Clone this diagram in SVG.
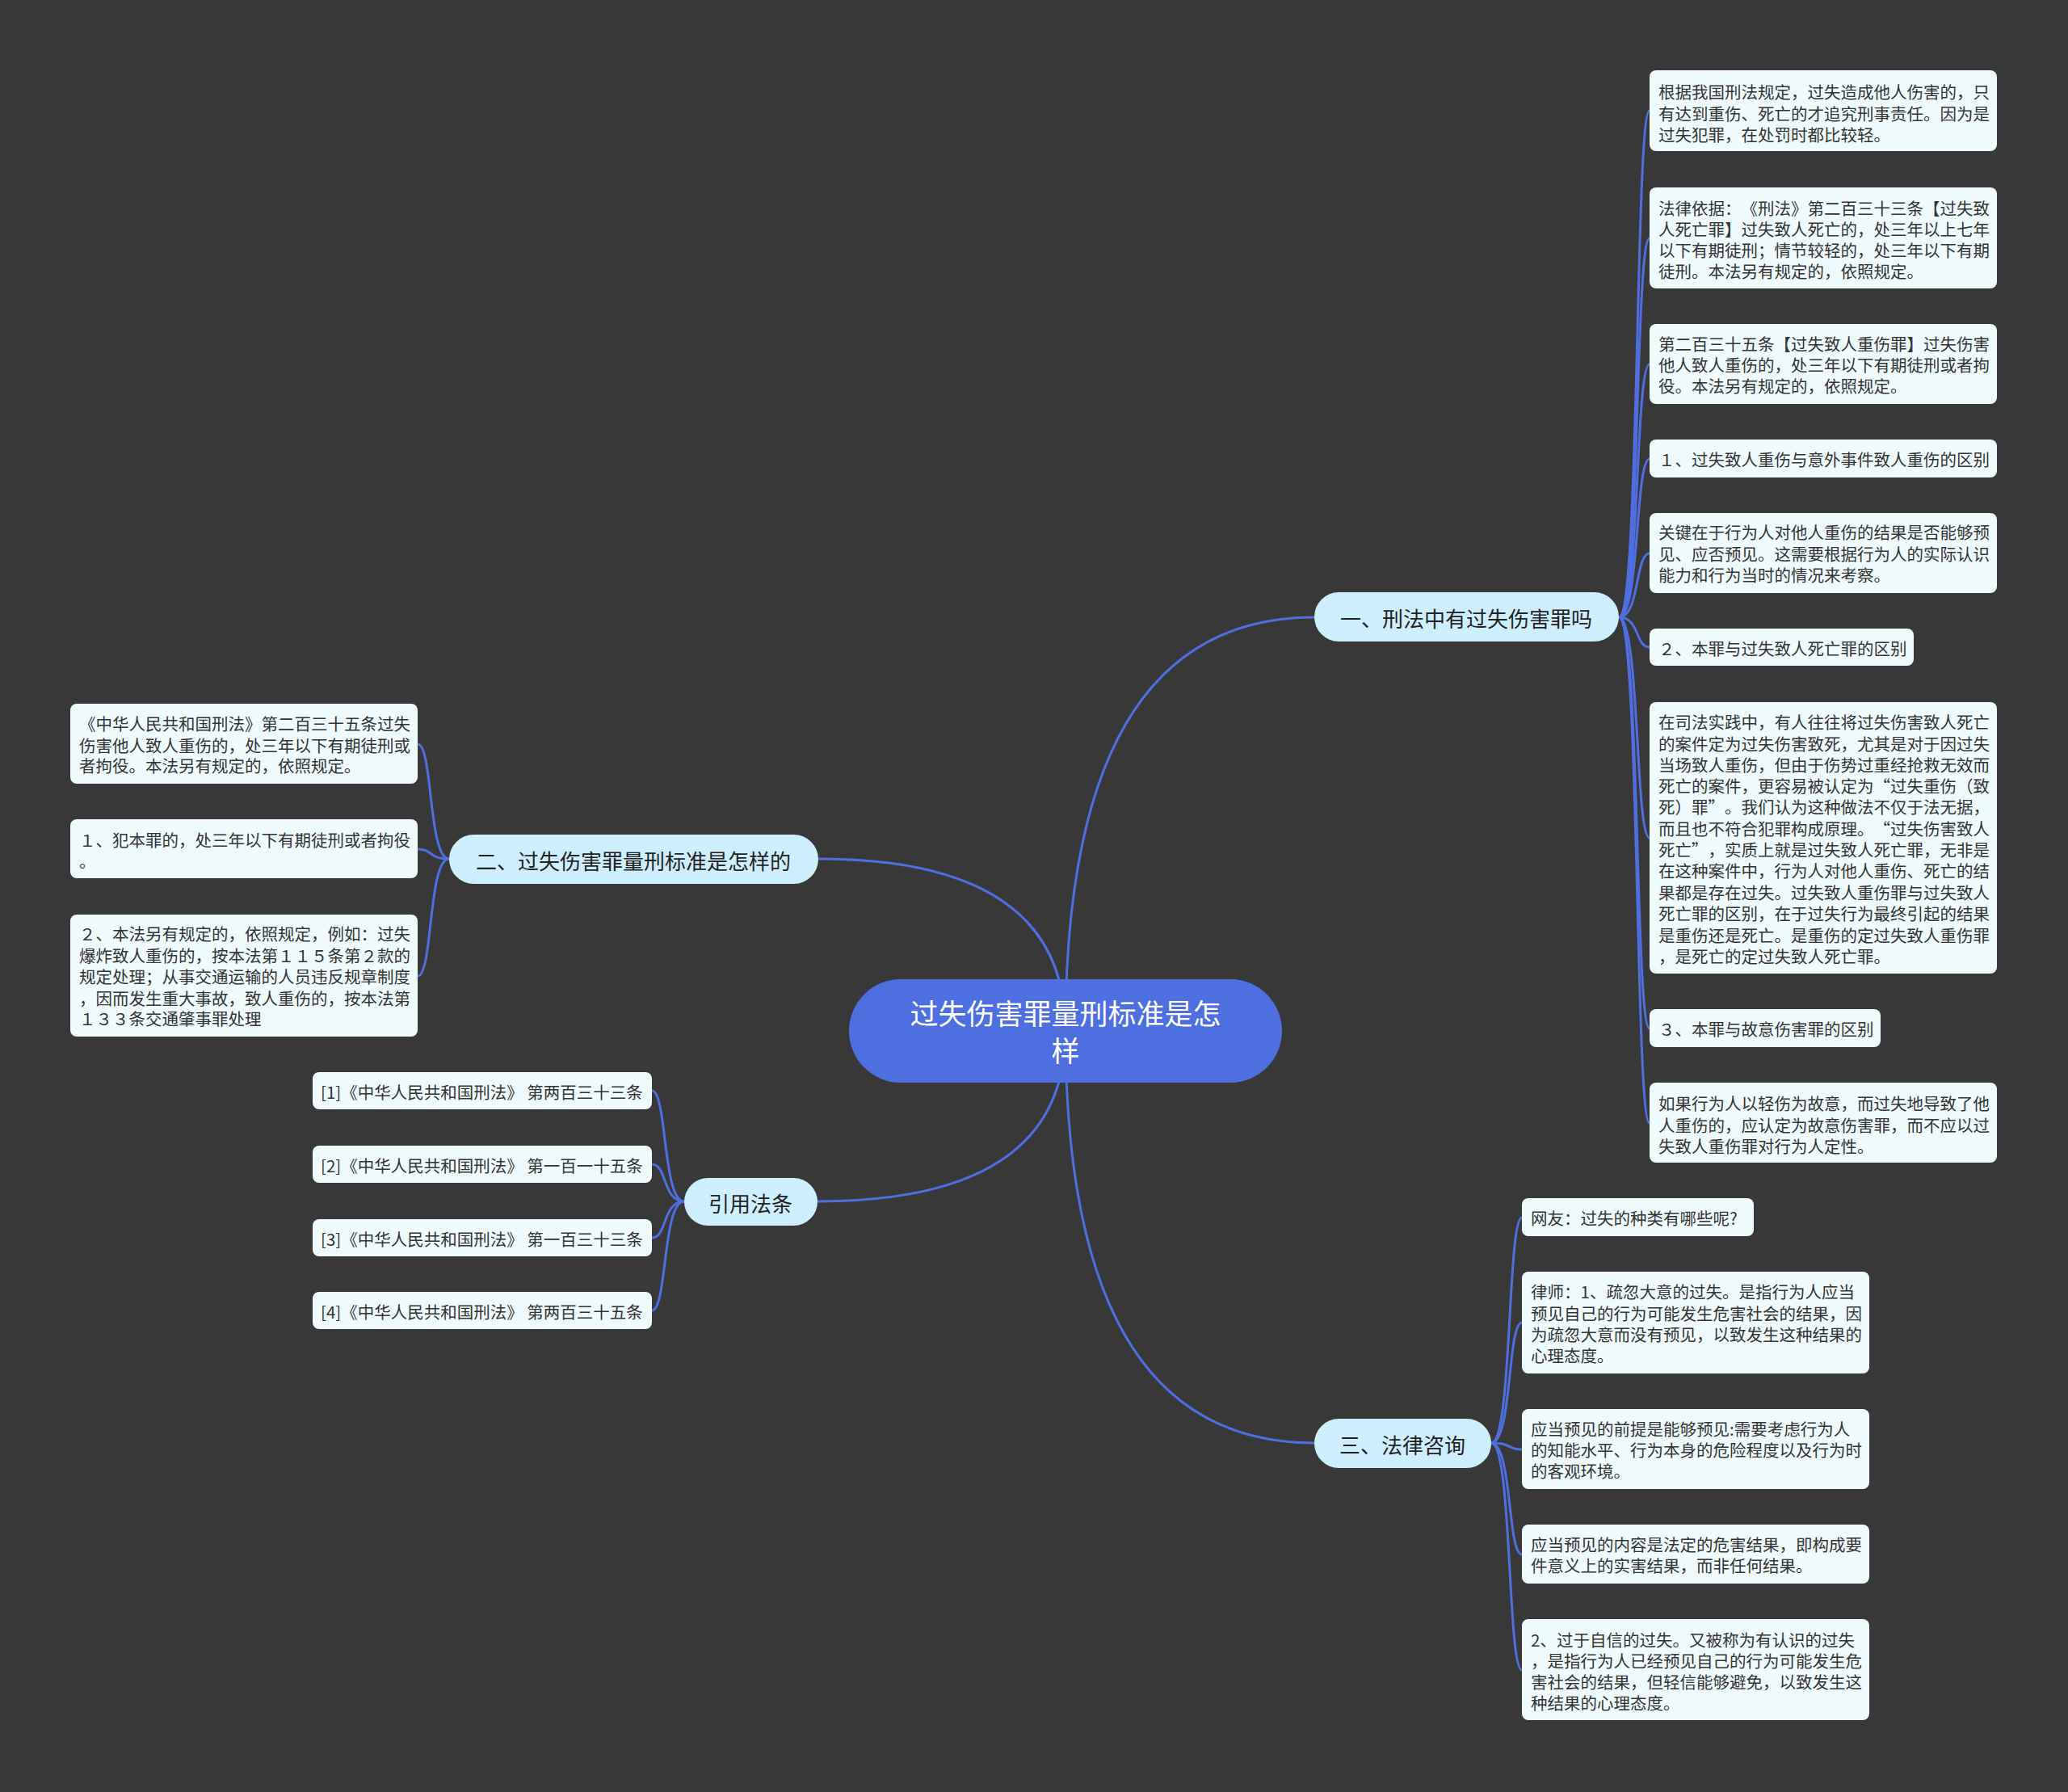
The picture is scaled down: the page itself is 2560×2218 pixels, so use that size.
<svg xmlns="http://www.w3.org/2000/svg" width="2560" height="2218" viewBox="0 0 2560 2218">
<style>
text{font-family:"Noto Sans CJK SC","Noto Sans",sans-serif;dominant-baseline:central;text-spacing-trim:space-all}
.lf rect{fill:#effafd}
.lf text{font-size:20.5px;fill:#333333}
.br rect{fill:#cdeefc}
.br text{font-size:26px;fill:#222222;text-anchor:middle}
.ct rect{fill:#4d6fe0}
.ct text{font-size:35px;fill:#ffffff;text-anchor:middle}
#connectors path{fill:none;stroke:#4f6fe0;stroke-width:3}
</style>
<rect x="0" y="0" width="2560" height="2218" fill="#393839"/>
<g id="connectors">
<path d="M1319 1276 Q1319 764 1627 764"/>
<path d="M1319 1276 Q1319 1063 1013 1063"/>
<path d="M1319 1276 Q1319 1487 1012 1487"/>
<path d="M1319 1276 Q1319 1786 1627 1786"/>
<path d="M2004 764 C2030 764 2024 137 2042 137"/>
<path d="M2004 764 C2030 764 2024 295 2042 295"/>
<path d="M2004 764 C2030 764 2024 451 2042 451"/>
<path d="M2004 764 C2030 764 2024 568 2042 568"/>
<path d="M2004 764 C2030 764 2024 685 2042 685"/>
<path d="M2004 764 C2030 764 2024 801 2042 801"/>
<path d="M2004 764 C2030 764 2024 1037 2042 1037"/>
<path d="M2004 764 C2030 764 2024 1273 2042 1273"/>
<path d="M2004 764 C2030 764 2024 1390 2042 1390"/>
<path d="M556 1063 C530 1063 536 921 517 921"/>
<path d="M556 1063 C530 1063 536 1051 517 1051"/>
<path d="M556 1063 C530 1063 536 1208 517 1208"/>
<path d="M847 1487 C820 1487 826 1350 807 1350"/>
<path d="M847 1487 C820 1487 826 1441 807 1441"/>
<path d="M847 1487 C820 1487 826 1532 807 1532"/>
<path d="M847 1487 C820 1487 826 1622 807 1622"/>
<path d="M1846 1786 C1872 1786 1866 1507 1884 1507"/>
<path d="M1846 1786 C1872 1786 1866 1637 1884 1637"/>
<path d="M1846 1786 C1872 1786 1866 1794 1884 1794"/>
<path d="M1846 1786 C1872 1786 1866 1924 1884 1924"/>
<path d="M1846 1786 C1872 1786 1866 2067 1884 2067"/>
</g>
<g id="central" class="ct">
<rect x="1051" y="1212" width="536" height="128" rx="64"/>
<text x="1319" y="1252">过失伤害罪量刑标准是怎</text>
<text x="1319" y="1298">样</text>
</g>
<g id="b1" class="br">
<rect x="1627" y="733" width="377" height="61" rx="30.5"/>
<text x="1815" y="764">一、刑法中有过失伤害罪吗</text>
</g>
<g id="b2" class="br">
<rect x="556" y="1033" width="457" height="61" rx="30.5"/>
<text x="784" y="1064">二、过失伤害罪量刑标准是怎样的</text>
</g>
<g id="b3" class="br">
<rect x="1627" y="1756" width="219" height="61" rx="30.5"/>
<text x="1736" y="1787">三、法律咨询</text>
</g>
<g id="b4" class="br">
<rect x="847" y="1458" width="165" height="59" rx="29.5"/>
<text x="929" y="1488">引用法条</text>
</g>
<g id="r1" class="lf">
<rect x="2042" y="87" width="430" height="100" rx="8"/>
<text x="2053" y="113">根据我国刑法规定，过失造成他人伤害的，只</text>
<text x="2053" y="140">有达到重伤、死亡的才追究刑事责任。因为是</text>
<text x="2053" y="166">过失犯罪，在处罚时都比较轻。</text>
</g>
<g id="r2" class="lf">
<rect x="2042" y="232" width="430" height="125" rx="8"/>
<text x="2053" y="257">法律依据：《刑法》第二百三十三条【过失致</text>
<text x="2053" y="283">人死亡罪】过失致人死亡的，处三年以上七年</text>
<text x="2053" y="309">以下有期徒刑；情节较轻的，处三年以下有期</text>
<text x="2053" y="335">徒刑。本法另有规定的，依照规定。</text>
</g>
<g id="r3" class="lf">
<rect x="2042" y="401" width="430" height="99" rx="8"/>
<text x="2053" y="425">第二百三十五条【过失致人重伤罪】过失伤害</text>
<text x="2053" y="451">他人致人重伤的，处三年以下有期徒刑或者拘</text>
<text x="2053" y="477">役。本法另有规定的，依照规定。</text>
</g>
<g id="r4" class="lf">
<rect x="2042" y="544" width="430" height="47" rx="8"/>
<text x="2053" y="568">１、过失致人重伤与意外事件致人重伤的区别</text>
</g>
<g id="r5" class="lf">
<rect x="2042" y="635" width="430" height="99" rx="8"/>
<text x="2053" y="658">关键在于行为人对他人重伤的结果是否能够预</text>
<text x="2053" y="685">见、应否预见。这需要根据行为人的实际认识</text>
<text x="2053" y="711">能力和行为当时的情况来考察。</text>
</g>
<g id="r6" class="lf">
<rect x="2042" y="778" width="327" height="46" rx="8"/>
<text x="2053" y="802">２、本罪与过失致人死亡罪的区别</text>
</g>
<g id="r7" class="lf">
<rect x="2042" y="869" width="430" height="336" rx="8"/>
<text x="2053" y="893">在司法实践中，有人往往将过失伤害致人死亡</text>
<text x="2053" y="920">的案件定为过失伤害致死，尤其是对于因过失</text>
<text x="2053" y="946">当场致人重伤，但由于伤势过重经抢救无效而</text>
<text x="2053" y="972">死亡的案件，更容易被认定为“过失重伤（致</text>
<text x="2053" y="998">死）罪”。我们认为这种做法不仅于法无据，</text>
<text x="2053" y="1025">而且也不符合犯罪构成原理。“过失伤害致人</text>
<text x="2053" y="1051">死亡”，实质上就是过失致人死亡罪，无非是</text>
<text x="2053" y="1077">在这种案件中，行为人对他人重伤、死亡的结</text>
<text x="2053" y="1104">果都是存在过失。过失致人重伤罪与过失致人</text>
<text x="2053" y="1130">死亡罪的区别，在于过失行为最终引起的结果</text>
<text x="2053" y="1157">是重伤还是死亡。是重伤的定过失致人重伤罪</text>
<text x="2053" y="1183">，是死亡的定过失致人死亡罪。</text>
</g>
<g id="r8" class="lf">
<rect x="2042" y="1249" width="286" height="47" rx="8"/>
<text x="2053" y="1273">３、本罪与故意伤害罪的区别</text>
</g>
<g id="r9" class="lf">
<rect x="2042" y="1340" width="430" height="99" rx="8"/>
<text x="2053" y="1365">如果行为人以轻伤为故意，而过失地导致了他</text>
<text x="2053" y="1392">人重伤的，应认定为故意伤害罪，而不应以过</text>
<text x="2053" y="1418">失致人重伤罪对行为人定性。</text>
</g>
<g id="l1" class="lf">
<rect x="87" y="871" width="430" height="99" rx="8"/>
<text x="98" y="895">《中华人民共和国刑法》第二百三十五条过失</text>
<text x="98" y="922">伤害他人致人重伤的，处三年以下有期徒刑或</text>
<text x="98" y="947">者拘役。本法另有规定的，依照规定。</text>
</g>
<g id="l2" class="lf">
<rect x="87" y="1014" width="430" height="73" rx="8"/>
<text x="98" y="1039">１、犯本罪的，处三年以下有期徒刑或者拘役</text>
<text x="98" y="1065">。</text>
</g>
<g id="l3" class="lf">
<rect x="87" y="1132" width="430" height="151" rx="8"/>
<text x="98" y="1155">２、本法另有规定的，依照规定，例如：过失</text>
<text x="98" y="1182">爆炸致人重伤的，按本法第１１５条第２款的</text>
<text x="98" y="1208">规定处理；从事交通运输的人员违反规章制度</text>
<text x="98" y="1235">，因而发生重大事故，致人重伤的，按本法第</text>
<text x="98" y="1260">１３３条交通肇事罪处理</text>
</g>
<g id="c1" class="lf">
<rect x="387" y="1327" width="420" height="46" rx="8"/>
<text x="397" y="1351">[1]《中华人民共和国刑法》 第两百三十三条</text>
</g>
<g id="c2" class="lf">
<rect x="387" y="1418" width="420" height="46" rx="8"/>
<text x="397" y="1442">[2]《中华人民共和国刑法》 第一百一十五条</text>
</g>
<g id="c3" class="lf">
<rect x="387" y="1509" width="420" height="46" rx="8"/>
<text x="397" y="1533">[3]《中华人民共和国刑法》 第一百三十三条</text>
</g>
<g id="c4" class="lf">
<rect x="387" y="1599" width="420" height="46" rx="8"/>
<text x="397" y="1623">[4]《中华人民共和国刑法》 第两百三十五条</text>
</g>
<g id="q1" class="lf">
<rect x="1884" y="1483" width="287" height="47" rx="8"/>
<text x="1895" y="1507">网友：过失的种类有哪些呢?</text>
</g>
<g id="q2" class="lf">
<rect x="1884" y="1574" width="430" height="126" rx="8"/>
<text x="1895" y="1598">律师：1、疏忽大意的过失。是指行为人应当</text>
<text x="1895" y="1625">预见自己的行为可能发生危害社会的结果，因</text>
<text x="1895" y="1651">为疏忽大意而没有预见，以致发生这种结果的</text>
<text x="1895" y="1677">心理态度。</text>
</g>
<g id="q3" class="lf">
<rect x="1884" y="1744" width="430" height="99" rx="8"/>
<text x="1895" y="1768">应当预见的前提是能够预见:需要考虑行为人</text>
<text x="1895" y="1794">的知能水平、行为本身的危险程度以及行为时</text>
<text x="1895" y="1820">的客观环境。</text>
</g>
<g id="q4" class="lf">
<rect x="1884" y="1887" width="430" height="73" rx="8"/>
<text x="1895" y="1911">应当预见的内容是法定的危害结果，即构成要</text>
<text x="1895" y="1937">件意义上的实害结果，而非任何结果。</text>
</g>
<g id="q5" class="lf">
<rect x="1884" y="2004" width="430" height="125" rx="8"/>
<text x="1895" y="2029">2、过于自信的过失。又被称为有认识的过失</text>
<text x="1895" y="2055">，是指行为人已经预见自己的行为可能发生危</text>
<text x="1895" y="2081">害社会的结果，但轻信能够避免，以致发生这</text>
<text x="1895" y="2107">种结果的心理态度。</text>
</g>
</svg>
